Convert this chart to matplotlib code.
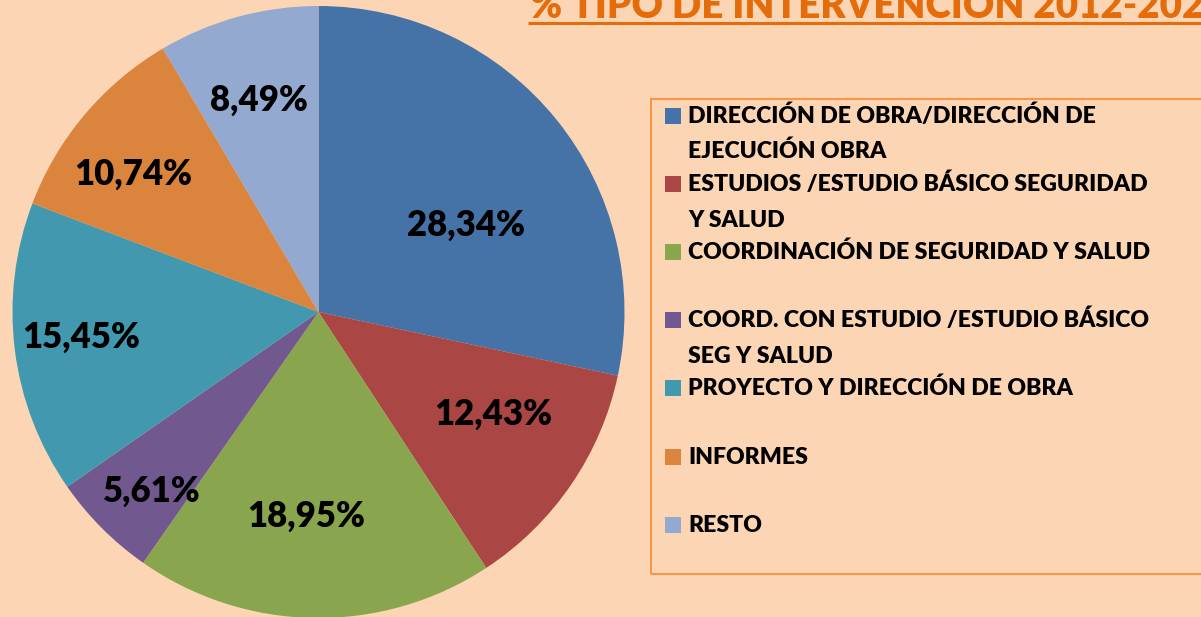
import matplotlib
matplotlib.use("Agg")
import matplotlib.pyplot as plt
from matplotlib.patches import Rectangle
import numpy as np

categories = [
    "DIRECCIÓN DE OBRA/DIRECCIÓN DE\nEJECUCIÓN OBRA",
    "ESTUDIOS /ESTUDIO BÁSICO SEGURIDAD\nY SALUD",
    "COORDINACIÓN DE SEGURIDAD Y SALUD",
    "COORD. CON ESTUDIO /ESTUDIO BÁSICO\nSEG Y SALUD",
    "PROYECTO Y DIRECCIÓN DE OBRA",
    "INFORMES",
    "RESTO",
]
values = [28.34, 12.43, 18.95, 5.61, 15.45, 10.74, 8.49]
value_labels = ["28,34%", "12,43%", "18,95%", "5,61%", "15,45%", "10,74%", "8,49%"]
title = "% TIPO DE INTERVENCIÓN 2012-2022"

colors = ["#4572A7", "#AA4643", "#89A54E", "#71588F", "#4198AF", "#DB843D", "#93A9CF"]
bg = "#FCD5B5"
FONT = "Lato"

W, H = 1201, 617
fig = plt.figure(figsize=(W / 100, H / 100), dpi=100, facecolor=bg)
ax = fig.add_axes([0, 0, 1, 1])
ax.set_facecolor(bg)

cx, cy, R = 318.5, H - 312, 306
wedges, _ = ax.pie(values, colors=colors, startangle=90, counterclock=False,
                   center=(cx, cy), radius=R, frame=True,
                   wedgeprops=dict(linewidth=0))
ax.set_xlim(0, W)
ax.set_ylim(0, H)
ax.set_aspect("equal")
ax.axis("off")

# label placement (radial fraction and angular offset, deg)
rfrac = [0.56, 0.66, 0.67, 0.80, 0.78, 0.755, 0.72]
aoff = [-8.5, 4, -2.7, 2, -1, 3.4, 0.4]
for w, lab, rf, ao in zip(wedges, value_labels, rfrac, aoff):
    ang = np.deg2rad((w.theta1 + w.theta2) / 2 + ao)
    x = cx + rf * R * np.cos(ang)
    y = cy + rf * R * np.sin(ang)
    ax.text(x, y, lab, ha="center", va="center", fontsize=25,
            fontweight="heavy", family=FONT, color="black")

# legend box
ax.add_patch(Rectangle((651, H - 574), 560, 475, facecolor="none",
                       edgecolor="#F79646", linewidth=1.5, clip_on=False))
for i, (cat, col) in enumerate(zip(categories, colors)):
    base = 123 + i * 68.1
    ax.add_patch(Rectangle((665, H - base - 1), 16, 16, facecolor=col, edgecolor="none"))
    for j, line in enumerate(cat.split("\n")):
        ax.text(688, H - (base + j * 35.5), line, ha="left", va="baseline",
                fontsize=16.6, fontweight="heavy", family=FONT, color="black")

# title (cut off at top / right as in the reference)
ax.text(530, H - 18, title, ha="left", va="baseline", fontsize=27.8,
        fontweight="heavy", family=FONT, color="#E46C0A", clip_on=False)
ax.plot([528, W + 5], [H - 23, H - 23], color="#E46C0A", linewidth=2.2,
        solid_capstyle="butt", clip_on=False)

fig.savefig("out.png", dpi=100, facecolor=bg)
